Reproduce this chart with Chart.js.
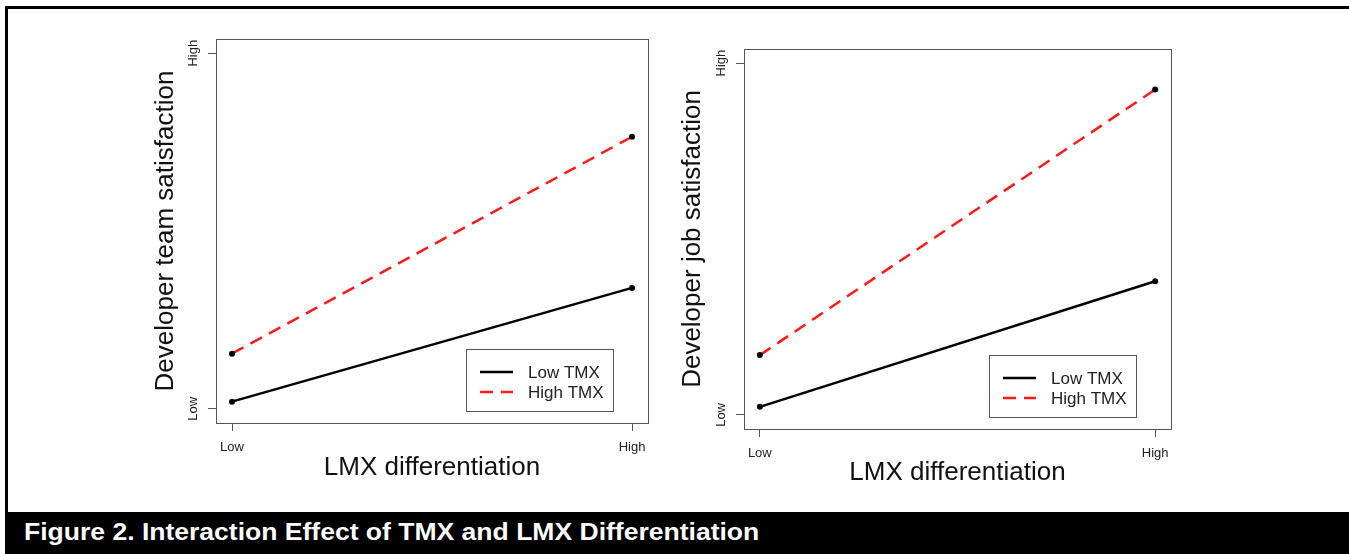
<!DOCTYPE html>
<html>
<head>
<meta charset="utf-8">
<script src="https://cdn.jsdelivr.net/npm/chart.js@4/dist/chart.umd.min.js"></script>
<style>
  body { margin: 0; background: #fff; width: 1349px; height: 554px; overflow: hidden; position: relative; font-family: "Liberation Sans", Arial, sans-serif; }
  #frame { position: absolute; left: 5px; top: 6px; width: 1360px; height: 506px; border-top: 3px solid #000; border-left: 3px solid #000; box-sizing: border-box; }
  #caption { position: absolute; left: 5px; top: 512px; width: 1344px; height: 42px; background: #000; color: #fff; font-weight: bold; font-size: 24px; line-height: 40px; white-space: nowrap; }
  #caption span { display: inline-block; margin-left: 19px; transform: scaleX(1.105); transform-origin: left center; }
  canvas { position: absolute; }
</style>
</head>
<body>
<div id="frame"></div>
<canvas id="teamChart" width="512" height="460" style="left:148px; top:30px;"></canvas>
<canvas id="jobChart" width="508" height="455" style="left:675px; top:40px;"></canvas>
<div id="caption"><span>Figure 2. Interaction Effect of TMX and LMX Differentiation</span></div>
<script>
const xLevels = ["Low", "High"];
const yLevels = ["Low", "High"];
const seriesNames = ["Low TMX", "High TMX"];
const teamLowTMX = [0.02, 0.34];
const teamHighTMX = [0.155, 0.765];
const jobLowTMX = [0.023, 0.38];
const jobHighTMX = [0.17, 0.925];

const FONT = "'Liberation Sans', Arial, sans-serif";

function toPoints(values) {
    return values.map((v, i) => ({ x: i, y: v }));
}

// box around the plot, rotated y tick labels and an R-style legend
const rPlot = {
    id: "rPlot",
    afterDraw(chart, args, opts) {
        const ctx = chart.ctx;
        const a = chart.chartArea;
        ctx.save();
        ctx.strokeStyle = "#555";
        ctx.lineWidth = 1;
        ctx.strokeRect(Math.round(a.left) + 0.5, Math.round(a.top) + 0.5, Math.round(a.right - a.left), Math.round(a.bottom - a.top));

        // y tick labels, rotated like R's
        const ys = chart.scales.y;
        ctx.fillStyle = "#222";
        ctx.font = "13px " + FONT;
        ctx.textAlign = "center";
        ctx.textBaseline = "middle";
        yLevels.forEach((lab, i) => {
            ctx.save();
            ctx.translate(a.left - opts.yLabelGap, ys.getPixelForValue(i));
            ctx.rotate(-Math.PI / 2);
            ctx.fillText(lab, 0, 0);
            ctx.restore();
        });

        // legend
        const lg = opts.legend;
        const bx = a.right - lg.right - lg.width;
        const by = a.bottom - lg.bottom - lg.height;
        ctx.strokeStyle = "#555";
        ctx.strokeRect(Math.round(bx) + 0.5, Math.round(by) + 0.5, lg.width, lg.height);
        ctx.font = "17px " + FONT;
        ctx.textAlign = "left";
        chart.data.datasets.forEach((ds, i) => {
            const yy = by + lg.firstRow + i * lg.rowGap;
            ctx.beginPath();
            ctx.strokeStyle = ds.borderColor;
            ctx.lineWidth = ds.borderWidth;
            ctx.setLineDash(ds.borderDash || []);
            ctx.moveTo(bx + 14, yy);
            ctx.lineTo(bx + 47, yy);
            ctx.stroke();
            ctx.setLineDash([]);
            ctx.fillStyle = "#222";
            ctx.fillText(ds.label, bx + 62, yy + 1);
        });
        ctx.restore();
    }
};

function makeChart(id, yTitle, lowVals, highVals, yWidth, xHeight) {
    new Chart(document.getElementById(id), {
        type: "line",
        data: {
            datasets: [
                {
                    label: seriesNames[0],
                    data: toPoints(lowVals),
                    borderColor: "#000",
                    borderWidth: 2.5,
                    pointRadius: 3,
                    pointBackgroundColor: "#000",
                    pointBorderWidth: 0
                },
                {
                    label: seriesNames[1],
                    data: toPoints(highVals),
                    borderColor: "#ff1a1a",
                    borderWidth: 2.5,
                    borderDash: [13, 8],
                    pointRadius: 3,
                    pointBackgroundColor: "#000",
                    pointBorderWidth: 0
                }
            ]
        },
        options: {
            responsive: false,
            animation: false,
            layout: { padding: { top: 9, right: 12, left: 0, bottom: 0 } },
            plugins: {
                legend: { display: false },
                tooltip: { enabled: false },
                rPlot: {
                    yLabelGap: 23,
                    legend: { right: 35, bottom: 12, width: 147, height: 62, firstRow: 23, rowGap: 20 }
                }
            },
            scales: {
                x: {
                    type: "linear",
                    min: -0.04,
                    max: 1.04,
                    afterBuildTicks: s => { s.ticks = xLevels.map((_, i) => ({ value: i })); },
                    afterFit: s => { s.height = xHeight; },
                    ticks: {
                        callback: v => xLevels[v],
                        color: "#222",
                        font: { family: FONT, size: 13 },
                        padding: 9,
                        maxRotation: 0
                    },
                    grid: { drawOnChartArea: false, drawTicks: true, tickLength: 8, color: "#555" },
                    border: { display: false },
                    title: {
                        display: true,
                        text: "LMX differentiation",
                        color: "#111",
                        font: { family: FONT, size: 26 },
                        padding: { top: 2, bottom: 7 }
                    }
                },
                y: {
                    type: "linear",
                    min: -0.04,
                    max: 1.04,
                    afterBuildTicks: s => { s.ticks = yLevels.map((_, i) => ({ value: i })); },
                    afterFit: s => { s.width = yWidth; },
                    ticks: { display: false },
                    grid: { drawOnChartArea: false, drawTicks: true, tickLength: 8, color: "#555" },
                    border: { display: false },
                    title: {
                        display: true,
                        text: yTitle,
                        color: "#111",
                        font: { family: FONT, size: 26 },
                        padding: { top: 2, bottom: 7 }
                    }
                }
            }
        },
        plugins: [rPlot]
    });
}

makeChart("teamChart", "Developer team satisfaction", teamLowTMX, teamHighTMX, 68, 67);
makeChart("jobChart", "Developer job satisfaction", jobLowTMX, jobHighTMX, 69, 66);
</script>
</body>
</html>
